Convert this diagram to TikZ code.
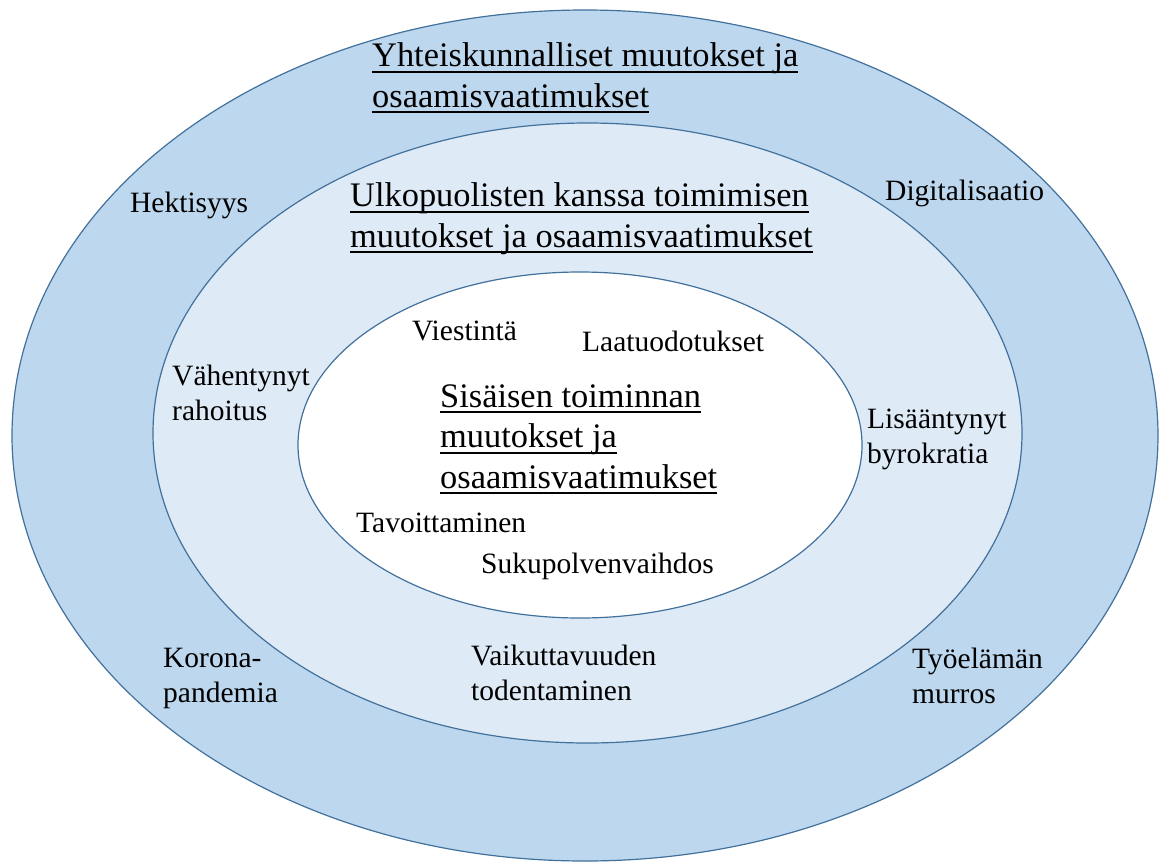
\documentclass[tikz,border=0pt]{standalone}
\usepackage{fontspec}
\setmainfont{Liberation Serif}
\definecolor{ringA}{HTML}{BDD7EE}
\definecolor{ringB}{HTML}{DEEBF7}
\definecolor{edgeblue}{HTML}{41719C}
\newcommand\ulx[1]{\setbox0=\hbox{#1}\rlap{\rule[-0.18em]{\wd0}{0.055em}}\box0}
\begin{document}
\begin{tikzpicture}[x=1pt,y=-1pt,
  ring/.style={draw=edgeblue,line width=1.2pt},
  lbl/.style={anchor=base west,inner sep=0pt,align=left,font=\fontsize{29.5}{35}\selectfont},
  ttl/.style={anchor=base west,inner sep=0pt,align=left,font=\fontsize{34.4}{40.5}\selectfont}]
\useasboundingbox (0,0) rectangle (1163,863);
\fill[white] (0,0) rectangle (1163,863);
\draw[ring,fill=ringA] (585,435.5) ellipse [x radius=573pt,y radius=425.5pt];
\draw[ring,fill=ringB] (587.5,433) ellipse [x radius=434.5pt,y radius=310pt];
\draw[ring,fill=white] (580,445) ellipse [x radius=282pt,y radius=173pt];

% multi-line nodes: base anchor = baseline of the last line
\node[ttl] (t1) at (372,107) {\ulx{Yhteiskunnalliset muutokset ja}\\\ulx{osaamisvaatimukset}};
\node[ttl] (t2) at (350,247) {\ulx{Ulkopuolisten kanssa toimimisen}\\\ulx{muutokset ja osaamisvaatimukset}};
\node[ttl] (t3) at (440,488) {\ulx{Sisäisen toiminnan}\\\ulx{muutokset ja}\\\ulx{osaamisvaatimukset}};

\node[lbl] (hek) at (130,212) {Hektisyys};
\node[lbl] (dig) at (885,200) {Digitalisaatio};
\node[lbl] (vah) at (172,420) {Vähentynyt\\rahoitus};
\node[lbl] (lis) at (867,463) {Lisääntynyt\\byrokratia};
\node[lbl] (vie) at (412,340) {Viestintä};
\node[lbl] (laa) at (582,351) {Laatuodotukset};
\node[lbl] (tav) at (356,532) {Tavoittaminen};
\node[lbl] (suk) at (481,573) {Sukupolvenvaihdos};
\node[lbl] (vai) at (471,700) {Vaikuttavuuden\\todentaminen};
\node[lbl] (kor) at (163,702) {Korona-\\pandemia};
\node[lbl] (tyo) at (912,703) {Työelämän\\murros};
\end{tikzpicture}
\end{document}
